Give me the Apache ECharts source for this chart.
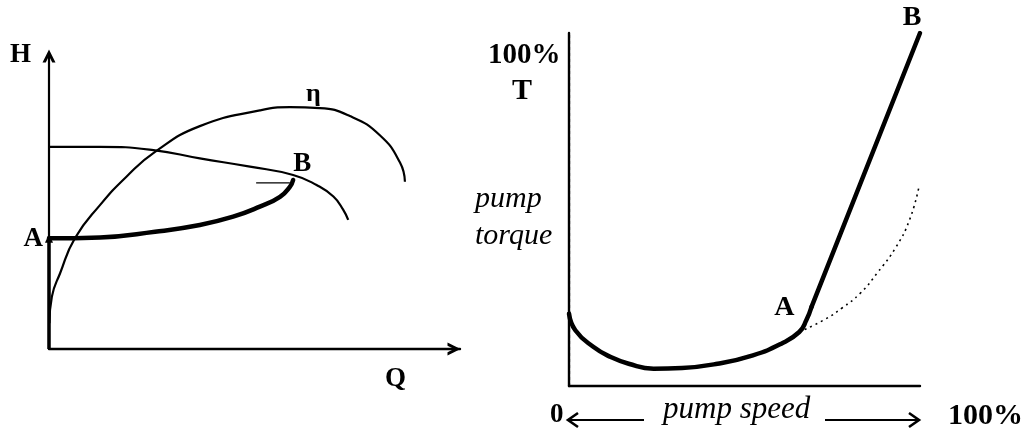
<!DOCTYPE html>
<html>
<head>
<meta charset="utf-8">
<script src="https://cdn.jsdelivr.net/npm/echarts@6/dist/echarts.min.js"></script>
<style>
  html, body { margin: 0; padding: 0; background: #fff; }
  #chart { width: 1027px; height: 434px; }
</style>
</head>
<body>
<div id="chart"></div>
<script>
// ---- Pump characteristic (left): flow Q vs head H, in % of axis range ----
const headCurve = [[0, 68.3], [12.4, 68.3], [25.4, 67.2], [36.7, 64.4], [48.9, 61.6], [59.4, 58.8], [65.1, 55.4], [69.2, 51.5], [71.6, 47.0], [72.8, 43.6]];
const efficiencyCurve = [[0.1, 8.7], [0.7, 17.7], [2.7, 25.6], [6.3, 37.4], [12.4, 48.6], [18.9, 58.3], [25.8, 66.6], [36.7, 75.3], [51.3, 80.6], [58.6, 81.7], [65.9, 81.4], [73.2, 78.7], [80.5, 72.2], [85.4, 63.0], [86.6, 56.5]];
const startupPath = [[0, 37.4], [12.4, 37.7], [25.8, 39.6], [36.7, 41.9], [44.8, 44.7], [51.3, 48.1], [56.2, 51.4], [58.6, 54.8], [59.4, 57.1]];
const shutoffRise = [[0, 0], [0, 37.4]];
const arrowBarb = [[50.4, 56.1], [58.6, 56.1]];
const leftPoints = [{ name: 'A', value: [0, 37.4] }, { name: 'B', value: [59.4, 57.1] }];

// ---- Torque vs speed (right), % of rated ----
const torqueCurve = [[0, 20.5], [1.8, 15.8], [6.9, 11.1], [11.9, 8.2], [17.0, 6.3], [24.1, 4.9], [32.2, 5.1], [42.3, 6.3], [52.4, 8.7], [60.5, 12.0], [65.6, 15.3], [67.6, 18.6], [69.1, 22.4]];
const torqueRamp = [[69.1, 22.4], [100, 100]];
const parabolicTorque = [[65.6, 15.3], [72.6, 18.7], [77.8, 22.1], [83.0, 26.3], [87.8, 32.0], [93.0, 39.1], [97.0, 47.0], [99.7, 56.4]];
const rightPoints = [{ name: 'A', value: [69.1, 22.4] }, { name: 'B', value: [100, 100] }];

const SERIF = '"Liberation Serif", "DejaVu Serif", serif';
// open arrow head drawn as a filled chevron outline
const chevron = 'path://M0,12 L6,0 L12,12 L9,12 L6,6 L3,12 Z';

const chart = echarts.init(document.getElementById('chart'), null, { renderer: 'canvas' });

function hiddenAxisParts() {
  return { axisTick: { show: false }, axisLabel: { show: false }, splitLine: { show: false } };
}

const pointLabel = (pos, dx, dy, size) => ({
  show: true, formatter: '{b}', position: pos, offset: [dx, dy],
  fontFamily: SERIF, fontWeight: 'bold', fontSize: size, color: '#000'
});

const option = {
  backgroundColor: '#fff',
  animation: false,
  grid: [
    { left: 49, top: 53, width: 411, height: 296 },
    { left: 569, top: 33, width: 351, height: 353 }
  ],
  xAxis: [
    Object.assign({ gridIndex: 0, type: 'value', min: 0, max: 100,
      axisLine: { show: true, symbol: ['none', chevron], symbolSize: [16, 13], symbolOffset: [0, -6],
        lineStyle: { color: '#000', width: 2.4 } } }, hiddenAxisParts()),
    Object.assign({ gridIndex: 1, type: 'value', min: 0, max: 100, position: 'bottom',
      axisLine: { show: true, lineStyle: { color: '#000', width: 2.4 } } }, hiddenAxisParts()),
    Object.assign({ gridIndex: 1, type: 'value', min: 0, max: 100, position: 'top',
      axisLine: { show: true, lineStyle: { color: '#000', width: 2 } } }, hiddenAxisParts())
  ],
  yAxis: [
    Object.assign({ gridIndex: 0, type: 'value', min: 0, max: 100,
      axisLine: { show: true, symbol: ['none', chevron], symbolSize: [16, 13], symbolOffset: [0, -3],
        lineStyle: { color: '#000', width: 2.2 } } }, hiddenAxisParts()),
    Object.assign({ gridIndex: 1, type: 'value', min: 0, max: 100, position: 'left',
      axisLine: { show: true, lineStyle: { color: '#000', width: 2.4 } } }, hiddenAxisParts()),
    Object.assign({ gridIndex: 1, type: 'value', min: 0, max: 100, position: 'right',
      axisLine: { show: true, lineStyle: { color: '#000', width: 1.2, type: [3, 3] } } }, hiddenAxisParts())
  ],
  series: [
    { type: 'line', xAxisIndex: 0, yAxisIndex: 0, data: headCurve, smooth: 0.5, showSymbol: false,
      lineStyle: { color: '#000', width: 2.2 } },
    { type: 'line', xAxisIndex: 0, yAxisIndex: 0, data: efficiencyCurve, smooth: 0.5, showSymbol: false,
      lineStyle: { color: '#000', width: 2.2 } },
    { type: 'line', xAxisIndex: 0, yAxisIndex: 0, data: startupPath, smooth: 0.5, showSymbol: false,
      lineStyle: { color: '#000', width: 4.5, cap: 'round' } },
    { type: 'line', xAxisIndex: 0, yAxisIndex: 0, data: shutoffRise, showSymbol: false,
      lineStyle: { color: '#000', width: 3.5 } },
    { type: 'line', xAxisIndex: 0, yAxisIndex: 0, data: arrowBarb, showSymbol: false,
      lineStyle: { color: '#000', width: 1.2 } },
    { type: 'scatter', xAxisIndex: 0, yAxisIndex: 0, data: [leftPoints[0]], symbol: 'triangle', symbolSize: [8, 9],
      itemStyle: { color: '#000', opacity: 1 }, label: pointLabel('left', 3, 1, 27) },
    { type: 'scatter', xAxisIndex: 0, yAxisIndex: 0, data: [leftPoints[1]], symbolSize: 0,
      itemStyle: { opacity: 1 }, label: pointLabel('top', 9, 3, 27) },

    { type: 'line', xAxisIndex: 1, yAxisIndex: 1, data: parabolicTorque, smooth: 0.5, showSymbol: false,
      lineStyle: { color: '#000', width: 1.6, type: [2, 4] } },
    { type: 'line', xAxisIndex: 1, yAxisIndex: 1, data: torqueCurve, smooth: 0.5, showSymbol: false,
      lineStyle: { color: '#000', width: 4.5, cap: 'round', join: 'round' } },
    { type: 'line', xAxisIndex: 1, yAxisIndex: 1, data: torqueRamp, showSymbol: false,
      lineStyle: { color: '#000', width: 4.5, cap: 'round' } },
    { type: 'scatter', xAxisIndex: 1, yAxisIndex: 1, data: [rightPoints[0]], symbolSize: 0,
      itemStyle: { opacity: 1 }, label: pointLabel('left', -12, 1, 28) },
    { type: 'scatter', xAxisIndex: 1, yAxisIndex: 1, data: [rightPoints[1]], symbolSize: 0,
      itemStyle: { opacity: 1 }, label: pointLabel('top', -8, 4, 28) }
  ],
  graphic: [
    // left panel axis names
    { type: 'text', left: 10, top: 42, style: { text: 'H', font: 'bold 27px ' + SERIF, fill: '#000' } },
    { type: 'text', left: 385, top: 366, style: { text: 'Q', font: 'bold 27px ' + SERIF, fill: '#000' } },
    { type: 'text', left: 306, top: 81, style: { text: 'η', font: 'bold 26px ' + SERIF, fill: '#000' } },
    // right panel torque axis
    { type: 'text', left: 488, top: 41, style: { text: '100%', font: 'bold 29px ' + SERIF, fill: '#000' } },
    { type: 'text', left: 512, top: 76, style: { text: 'T', font: 'bold 30px ' + SERIF, fill: '#000' } },
    { type: 'text', left: 475, top: 184, style: { text: 'pump', font: 'italic 30px ' + SERIF, fill: '#000' } },
    { type: 'text', left: 475, top: 221, style: { text: 'torque', font: 'italic 30px ' + SERIF, fill: '#000' } },
    // speed axis caption
    { type: 'text', left: 550, top: 402, style: { text: '0', font: 'bold 27px ' + SERIF, fill: '#000' } },
    { type: 'text', left: 663, top: 394, style: { text: 'pump speed', font: 'italic 31px ' + SERIF, fill: '#000' } },
    { type: 'text', left: 948, top: 401, style: { text: '100%', font: 'bold 30px ' + SERIF, fill: '#000' } },
    { type: 'line', shape: { x1: 568, y1: 420, x2: 644, y2: 420 }, style: { stroke: '#000', lineWidth: 2.2 } },
    { type: 'polyline', shape: { points: [[578, 413], [568, 420], [578, 427]] }, style: { stroke: '#000', lineWidth: 2.6, fill: null } },
    { type: 'line', shape: { x1: 825, y1: 420, x2: 919, y2: 420 }, style: { stroke: '#000', lineWidth: 2.2 } },
    { type: 'polyline', shape: { points: [[909, 413], [919, 420], [909, 427]] }, style: { stroke: '#000', lineWidth: 2.6, fill: null } }
  ]
};

chart.setOption(option);
</script>
</body>
</html>
